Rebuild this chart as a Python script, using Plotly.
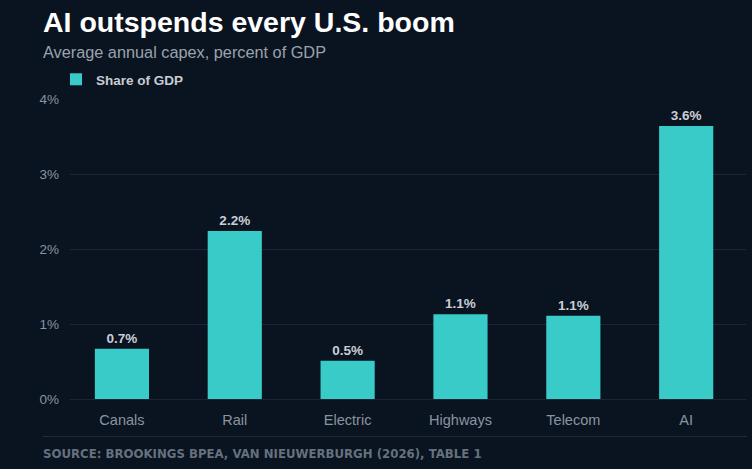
import plotly.graph_objects as go

categories = ["Canals", "Rail", "Electric", "Highways", "Telecom", "AI"]
share_of_gdp = [0.67, 2.24, 0.51, 1.13, 1.11, 3.64]
value_labels = ["0.7%", "2.2%", "0.5%", "1.1%", "1.1%", "3.6%"]
y_ticks = [0, 1, 2, 3, 4]
y_tick_labels = ["0%", "1%", "2%", "3%", "4%"]

BG = "#0a1320"
BAR = "#38cbc8"
W, H = 752, 469
L, R, T, B = 70, 6, 99, 70
PW, PH = W - L - R, H - T - B


def px_x(x):
    return (x - L) / PW


def px_y(y):
    return 1 - (y - T) / PH


fig = go.Figure()
fig.add_trace(go.Bar(
    x=categories, y=share_of_gdp, name="Share of GDP",
    marker=dict(color=BAR, line=dict(width=0)),
    width=0.48,
    text=value_labels, textposition="outside",
    textfont=dict(family="Liberation Sans", size=13.5, color="#c9ced6", weight="bold"),
    cliponaxis=False, showlegend=True,
))

fig.update_layout(
    width=W, height=H,
    paper_bgcolor=BG, plot_bgcolor=BG,
    margin=dict(l=L, r=R, t=T, b=B),
    showlegend=True,
    legend=dict(
        x=px_x(56), xref="paper", xanchor="left",
        y=px_y(79.5), yref="paper", yanchor="middle",
        orientation="h", bgcolor="rgba(0,0,0,0)",
        font=dict(family="Liberation Sans", size=13.5, color="#c8ccd2", weight="bold"),
        itemwidth=30,
    ),
    xaxis=dict(
        range=[-0.46, 5.53], showgrid=False, zeroline=False, showline=False,
        tickfont=dict(family="Liberation Sans", size=14.5, color="#8a94a0"),
        ticklabelstandoff=10,
    ),
    yaxis=dict(
        range=[0, 4], tickvals=y_ticks, ticktext=y_tick_labels,
        showgrid=True, gridcolor="#1b2535", gridwidth=1,
        zeroline=True, zerolinecolor="#1b2535", zerolinewidth=1,
        showline=False,
        tickfont=dict(family="Liberation Sans", size=13.5, color="#8a94a0"),
        ticklabelstandoff=10,
    ),
)

fig.add_annotation(
    text="<b>AI outspends every U.S. boom</b>", xref="paper", yref="paper",
    x=px_x(41), y=px_y(22),
    xanchor="left", yanchor="middle", showarrow=False,
    font=dict(family="Liberation Sans", size=28.5, color="#ffffff"),
)
fig.add_annotation(
    text="Average annual capex, percent of GDP", xref="paper", yref="paper",
    x=px_x(41), y=px_y(52),
    xanchor="left", yanchor="middle", showarrow=False,
    font=dict(family="Liberation Sans", size=16.3, color="#9aa3ad"),
)
fig.add_annotation(
    text="<b>SOURCE: BROOKINGS BPEA, VAN NIEUWERBURGH (2026), TABLE 1</b>",
    xref="paper", yref="paper",
    x=px_x(41), y=px_y(453.5),
    xanchor="left", yanchor="middle", showarrow=False,
    font=dict(family="DejaVu Sans", size=11.75, color="#65717f"),
)
fig.add_shape(
    type="line", xref="paper", yref="paper",
    x0=px_x(43), x1=px_x(747),
    y0=px_y(436.5), y1=px_y(436.5),
    line=dict(color="#1e2a3a", width=1),
)

fig.write_html("out.html")
